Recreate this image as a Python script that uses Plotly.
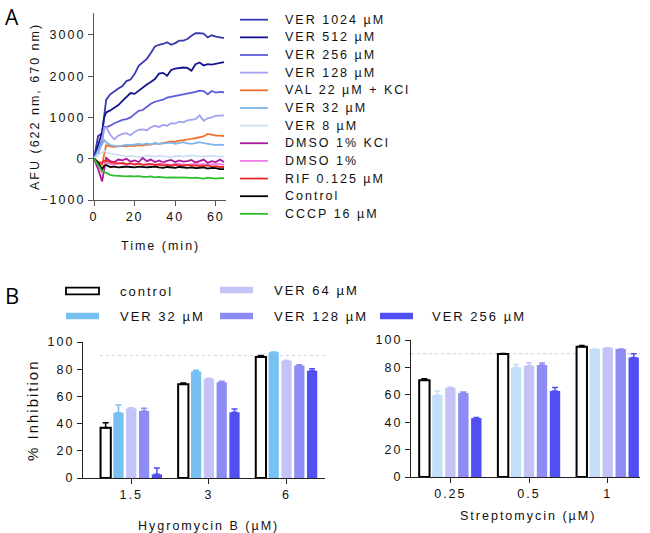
import plotly.graph_objects as go

W, H = 650, 533

# ---------------- Panel A data ----------------
time_min = [0, 2, 4, 5, 6, 8, 10, 12, 14, 16, 18, 20, 22, 24, 26, 28, 30, 32, 34, 36,
            38, 40, 42, 44, 46, 48, 50, 52, 54, 56, 58, 60, 62, 64]

ver1024 = [0, 550, 620, 1050, 1430, 1560, 1640, 1700, 1760, 1880, 1920, 2050, 2250, 2330, 2420, 2560, 2720,
           2760, 2780, 2820, 2760, 2800, 2860, 2860, 2900, 2980, 3040, 3040, 3030, 2940, 2990, 2960, 2940, 2920]
ver512 = [0, 300, 650, 1000, 1120, 1170, 1230, 1300, 1400, 1500, 1590, 1570, 1650, 1720, 1800, 1860, 1930,
          2060, 2080, 2010, 2150, 2180, 2200, 2210, 2200, 2130, 2290, 2330, 2260, 2290, 2280, 2300, 2320, 2340]
ver256 = [0, 180, 450, 780, 760, 800, 860, 900, 940, 960, 1000, 1080, 1160, 1180, 1260, 1330, 1380,
          1400, 1430, 1480, 1500, 1520, 1530, 1560, 1580, 1590, 1620, 1650, 1640, 1560, 1640, 1600, 1620, 1610]
ver128 = [0, 100, 400, 750, 760, 580, 470, 560, 600, 620, 570, 650, 700, 710, 690, 760, 800,
          770, 820, 800, 860, 850, 900, 880, 930, 950, 960, 1050, 920, 980, 1000, 1040, 1050, 1050]
val22_kcl = [0, -80, -150, 100, 330, 300, 290, 300, 310, 300, 320, 310, 330, 320, 350, 340, 370,
             360, 380, 400, 420, 410, 440, 450, 460, 480, 500, 520, 540, 600, 580, 560, 560, 550]
ver32 = [0, 200, 350, 450, 400, 330, 310, 300, 320, 340, 330, 350, 360, 340, 370, 350, 380,
         360, 370, 380, 390, 360, 380, 400, 370, 360, 380, 400, 380, 360, 350, 330, 340, 330]
ver8 = [0, 100, 150, 200, 150, 130, 100, 80, 60, 50, 70, 60, 40, 50, 80, 60, 50,
        70, 60, 50, 40, 60, 70, 50, 60, 80, 70, 60, 50, 60, 70, 60, 50, 50]
dmso_kcl = [0, -250, -550, -200, 20, -60, -80, -20, -40, 0, -70, -40, -80, 20, -60, -20, -80,
            -40, -90, -50, -30, -80, -40, -70, -60, -30, -90, -60, -20, -100, -60, -80, -20, -80]
dmso = [0, -150, -350, -150, -100, -120, -150, -100, -130, -150, -120, -140, -110, -150, -130, -120, -150,
        -130, -110, -140, -150, -120, -130, -140, -150, -130, -120, -140, -130, -150, -140, -120, -130, -150]
rif = [0, -80, -100, -50, -40, -80, -100, -120, -100, -130, -110, -140, -120, -150, -140, -130, -150,
       -140, -160, -150, -170, -150, -160, -170, -150, -170, -160, -180, -170, -160, -190, -180, -200, -200]
control_a = [0, -100, -250, -180, -150, -200, -190, -210, -200, -190, -200, -210, -190, -200, -210, -200, -190,
             -210, -220, -200, -210, -220, -200, -210, -220, -210, -230, -220, -210, -240, -220, -230, -250, -250]
cccp = [0, -150, -300, -320, -350, -390, -410, -420, -420, -430, -420, -430, -420, -440, -440, -430, -450,
        -440, -450, -460, -450, -450, -460, -450, -460, -470, -460, -470, -480, -460, -470, -480, -470, -470]

a_names = ["VER 1024 µM", "VER 512 µM", "VER 256 µM", "VER 128 µM", "VAL 22 µM + KCl", "VER 32 µM",
           "VER 8 µM", "DMSO 1% KCl", "DMSO 1%", "RIF 0.125 µM", "Control", "CCCP 16 µM"]
a_series = [ver1024, ver512, ver256, ver128, val22_kcl, ver32, ver8, dmso_kcl, dmso, rif, control_a, cccp]
a_colors = ["#3a3ab0", "#14148f", "#5c5cdc", "#a2a2f0", "#f07028", "#7cb6ea", "#cddff2",
            "#a8189a", "#f07ee6", "#ee2a2a", "#000000", "#2cc02c"]
a_yticks = [-1000, 0, 1000, 2000, 3000]
a_xticks = [0, 20, 40, 60]

# ---------------- Panel B data ----------------
groups_hyg = ["1.5", "3", "6"]
groups_str = ["0.25", "0.5", "1"]
b_names = ["control", "VER 32 µM", "VER 64 µM", "VER 128 µM", "VER 256 µM"]

hyg_control = [36.9, 69.0, 88.9]
hyg_ver32 = [48.0, 78.3, 92.4]
hyg_ver64 = [51.2, 72.9, 86.2]
hyg_ver128 = [49.3, 70.4, 82.8]
hyg_ver256 = [2.7, 48.3, 78.8]
hyg_err_control = [3.7, 0.8, 1.2]
hyg_err_ver32 = [5.7, 1.0, 0.3]
hyg_err_ver64 = [0.5, 0.5, 0.4]
hyg_err_ver128 = [1.9, 0.8, 0.4]
hyg_err_ver256 = [4.7, 2.4, 1.5]

str_control = [70.7, 89.8, 95.0]
str_ver32 = [59.8, 80.0, 93.4]
str_ver64 = [65.1, 81.2, 94.3]
str_ver128 = [61.2, 81.7, 93.4]
str_ver256 = [43.0, 62.7, 87.3]
str_err_control = [1.0, 0.3, 1.0]
str_err_ver32 = [2.9, 2.2, 0.0]
str_err_ver64 = [0.5, 2.2, 0.0]
str_err_ver128 = [0.8, 1.6, 0.0]
str_err_ver256 = [0.5, 2.7, 2.7]

b_yticks = [0, 20, 40, 60, 80, 100]
ref_line = 90

hyg_colors = ["#ffffff", "#76c0f2", "#c3c3f8", "#8c8cf4", "#5050f2"]
str_colors = ["#ffffff", "#c2def8", "#c3c3f8", "#8c8cf4", "#5050f2"]

FONT = "Liberation Sans, Arial, sans-serif"


def px(x):
    return x / W


def py(y):
    return 1 - y / H


fig = go.Figure()

# ---- Panel A lines ----
for name, vals, col in zip(a_names, a_series, a_colors):
    fig.add_trace(go.Scatter(x=time_min, y=vals, mode="lines", name=name,
                             line=dict(color=col, width=1.8), showlegend=False,
                             xaxis="x", yaxis="y"))

# ---- Panel B bars ----
hyg_vals = [hyg_control, hyg_ver32, hyg_ver64, hyg_ver128, hyg_ver256]
hyg_errs = [hyg_err_control, hyg_err_ver32, hyg_err_ver64, hyg_err_ver128, hyg_err_ver256]
str_vals = [str_control, str_ver32, str_ver64, str_ver128, str_ver256]
str_errs = [str_err_control, str_err_ver32, str_err_ver64, str_err_ver128, str_err_ver256]

for vals_list, errs_list, cols, xa, ya in [(hyg_vals, hyg_errs, hyg_colors, "x2", "y2"),
                                           (str_vals, str_errs, str_colors, "x3", "y3")]:
    for i, (name, vals, errs, col) in enumerate(zip(b_names, vals_list, errs_list, cols)):
        is_ctrl = (i == 0)
        fig.add_trace(go.Bar(
            x=[0, 1, 2], y=vals, name=name, showlegend=False,
            marker=dict(color=col, line=dict(color="#000000" if is_ctrl else col,
                                             width=2 if is_ctrl else 0)),
            error_y=dict(type="data", symmetric=False, array=errs, arrayminus=[0] * len(errs),
                         color="#000000" if is_ctrl else col, thickness=1.5, width=3),
            xaxis=xa, yaxis=ya, offsetgroup=str(i)))

axis_common = dict(showgrid=False, zeroline=False, showline=True, ticks="outside", ticklen=5,
                   tickfont=dict(family=FONT, size=12.5, color="#111"))

layout = dict(
    width=W, height=H, margin=dict(l=0, r=0, t=0, b=0, autoexpand=False),
    paper_bgcolor="white", plot_bgcolor="white",
    barmode="group", bargap=0.175, bargroupgap=0.2,
    font=dict(family=FONT, color="#111"),
    xaxis=dict(domain=[px(94), px(226)], range=[0, 65], anchor="y", tickvals=a_xticks,
               linecolor="#555", tickcolor="#555", linewidth=1.2, **axis_common),
    yaxis=dict(domain=[py(200), py(13)], range=[-1000, 3530], anchor="x", tickvals=a_yticks,
               linecolor="#555", tickcolor="#555", linewidth=1.2, **axis_common),
    xaxis2=dict(domain=[px(83), px(325)], range=[-0.622, 2.496], anchor="y2", tickvals=[0, 1, 2],
                ticktext=groups_hyg, linecolor="#222", tickcolor="#222", linewidth=1.2, **axis_common),
    yaxis2=dict(domain=[py(478), py(342)], range=[0, 100], anchor="x2", tickvals=b_yticks,
                linecolor="#222", tickcolor="#222", linewidth=1.2, **axis_common),
    xaxis3=dict(domain=[px(411), px(640)], range=[-0.5, 2.41], anchor="y3", tickvals=[0, 1, 2],
                ticktext=groups_str, linecolor="#222", tickcolor="#222", linewidth=1.2, **axis_common),
    yaxis3=dict(domain=[py(477), py(340)], range=[0, 100], anchor="x3", tickvals=b_yticks,
                linecolor="#222", tickcolor="#222", linewidth=1.2, **axis_common),
)
fig.update_layout(**layout)

shapes = []
annotations = []

# dotted reference lines at 90 %
for xr, yr, x0 in [("x2 domain", "y2", 0.07), ("x3 domain", "y3", 0.0)]:
    shapes.append(dict(type="line", xref=xr, yref=yr, x0=x0, x1=1, y0=ref_line, y1=ref_line,
                       line=dict(color="#cfcfcf", width=1, dash="dot"), layer="below"))

# Panel A legend (manual)
for k, (name, col) in enumerate(zip(a_names, a_colors)):
    yy = 19.7 + 17.65 * k
    shapes.append(dict(type="line", xref="paper", yref="paper", x0=px(240), x1=px(268),
                       y0=py(yy), y1=py(yy), line=dict(color=col, width=1.8)))
    annotations.append(dict(xref="paper", yref="paper", x=px(283), y=py(yy), text=name,
                            showarrow=False, xanchor="left", yanchor="middle", align="left",
                            font=dict(family=FONT, size=12.5, color="#111")))

# Panel B legend (manual)
b_leg_pos = [(66, 291, 118), (66, 316, 118), (220, 290, 272), (220, 316, 272), (380, 316, 430)]
for (bx, by, tx), name, col in zip(b_leg_pos, b_names, hyg_colors):
    is_ctrl = name == "control"
    shapes.append(dict(type="rect", xref="paper", yref="paper", x0=px(bx), x1=px(bx + 33),
                       y0=py(by + 3.3), y1=py(by - 3.3), fillcolor=col,
                       line=dict(color="#000" if is_ctrl else col, width=1.8 if is_ctrl else 0)))
    annotations.append(dict(xref="paper", yref="paper", x=px(tx), y=py(by), text=name,
                            showarrow=False, xanchor="left", yanchor="middle", align="left",
                            font=dict(family=FONT, size=13, color="#111")))

# Titles / axis labels
annotations += [
    dict(xref="paper", yref="paper", x=px(3), y=py(17), text="A", showarrow=False,
         xanchor="left", yanchor="middle", font=dict(family="Open Sans, Liberation Sans", size=21, color="#000")),
    dict(xref="paper", yref="paper", x=px(3), y=py(295), text="B", showarrow=False,
         xanchor="left", yanchor="middle", font=dict(family="Open Sans, Liberation Sans", size=22, color="#000")),
    dict(xref="paper", yref="paper", x=px(35), y=py(107), text="AFU (622 nm, 670 nm)", textangle=-90,
         showarrow=False, xanchor="center", yanchor="middle", font=dict(family=FONT, size=12.5, color="#111")),
    dict(xref="paper", yref="paper", x=px(160), y=py(246), text="Time (min)",
         showarrow=False, xanchor="center", yanchor="middle", font=dict(family=FONT, size=12.5, color="#111")),
    dict(xref="paper", yref="paper", x=px(32), y=py(410), text="% Inhibition", textangle=-90,
         showarrow=False, xanchor="center", yanchor="middle", font=dict(family=FONT, size=15, color="#111")),
    dict(xref="paper", yref="paper", x=px(208), y=py(526), text="Hygromycin B (µM)",
         showarrow=False, xanchor="center", yanchor="middle", font=dict(family=FONT, size=12.5, color="#111")),
    dict(xref="paper", yref="paper", x=px(528), y=py(516), text="Streptomycin (µM)",
         showarrow=False, xanchor="center", yanchor="middle", font=dict(family=FONT, size=12.5, color="#111")),
]

fig.update_layout(shapes=shapes, annotations=annotations)

page_js = """
(function(){
  document.body.style.margin = '0';
  document.body.style.overflow = 'hidden';
  function sp(){
    var gd = document.getElementById('{plot_id}');
    if(!gd) return;
    gd.querySelectorAll('text').forEach(function(t){
      var s = t.textContent;
      if (s === 'A' || s === 'B') return;
      t.style.letterSpacing = '2px';
    });
  }
  sp(); setTimeout(sp, 50); setTimeout(sp, 300);
})();
"""

fig.write_html("out.html", post_script=page_js, config={"displayModeBar": False})
